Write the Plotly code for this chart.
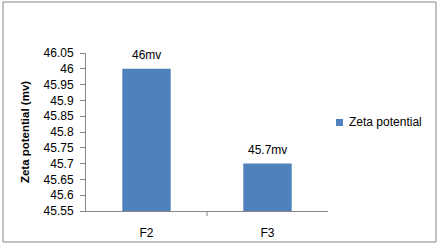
import plotly.graph_objects as go

categories = ["F2", "F3"]
values = [46.0, 45.7]
labels = ["46mv", "45.7mv"]
series_name = "Zeta potential"
ytick_vals = [45.55, 45.6, 45.65, 45.7, 45.75, 45.8, 45.85, 45.9, 45.95, 46.0, 46.05]
ytick_text = ["45.55", "45.6", "45.65", "45.7", "45.75", "45.8", "45.85", "45.9", "45.95", "46", "46.05"]

W, H = 441, 250
L, R, T, B = 86, 113, 53, 39
pw, ph = W - L - R, H - T - B
BAR_COLOR = "#4F81BD"
AXIS_COLOR = "#868686"

def px_x(p):
    return (p - L) / pw

def px_y(p):
    return (H - B - p) / ph

fig = go.Figure()
fig.add_trace(go.Bar(
    x=categories, y=values, name=series_name, width=0.4,
    marker=dict(color=BAR_COLOR, line=dict(width=0)),
    showlegend=False,
))

annotations = [
    dict(x=c, y=v, xref="x", yref="y", text=t, showarrow=False,
         yanchor="middle", yshift=14, font=dict(size=12, color="#000000"))
    for c, v, t in zip(categories, values, labels)
]
# legend entry
annotations.append(dict(x=px_x(347), y=px_y(122), xref="paper", yref="paper",
                        text=series_name, showarrow=False, xanchor="left",
                        yanchor="middle", font=dict(size=12, color="#000000")))

fig.update_layout(
    width=W, height=H,
    margin=dict(l=L, r=R, t=T, b=B, autoexpand=False),
    paper_bgcolor="white", plot_bgcolor="white",
    font=dict(family="Liberation Sans, Arial, sans-serif", size=12, color="#000000"),
    showlegend=False,
    bargap=0.6,
    xaxis=dict(showline=True, linecolor=AXIS_COLOR, linewidth=1, ticks="",
               showgrid=False, zeroline=False, range=[-0.5, 1.5], automargin=False,
               tickfont=dict(size=12), ticklabelstandoff=11),
    yaxis=dict(range=[45.55, 46.05], tickvals=ytick_vals, ticktext=ytick_text,
               showline=True, linecolor=AXIS_COLOR, linewidth=1, automargin=False,
               ticks="outside", ticklen=5, tickcolor=AXIS_COLOR,
               showgrid=False, zeroline=False, tickfont=dict(size=12),
               ticklabelstandoff=4,
               title=dict(text="<b>Zeta potential (mv)</b>", font=dict(size=11.5), standoff=11)),
    annotations=annotations,
    shapes=[
        dict(type="rect", xref="paper", yref="paper",
             x0=px_x(3), x1=px_x(436), y0=px_y(242), y1=px_y(2),
             line=dict(color=AXIS_COLOR, width=1), fillcolor="rgba(0,0,0,0)", layer="below"),
        dict(type="line", xref="x", yref="paper", x0=0.5, x1=0.5, y0=0, y1=-5 / ph,
             line=dict(color=AXIS_COLOR, width=1)),
        dict(type="rect", xref="paper", yref="paper",
             x0=px_x(336), x1=px_x(343), y0=px_y(126), y1=px_y(119),
             line=dict(width=0), fillcolor=BAR_COLOR),
    ],
)

fig.write_html("out.html")
